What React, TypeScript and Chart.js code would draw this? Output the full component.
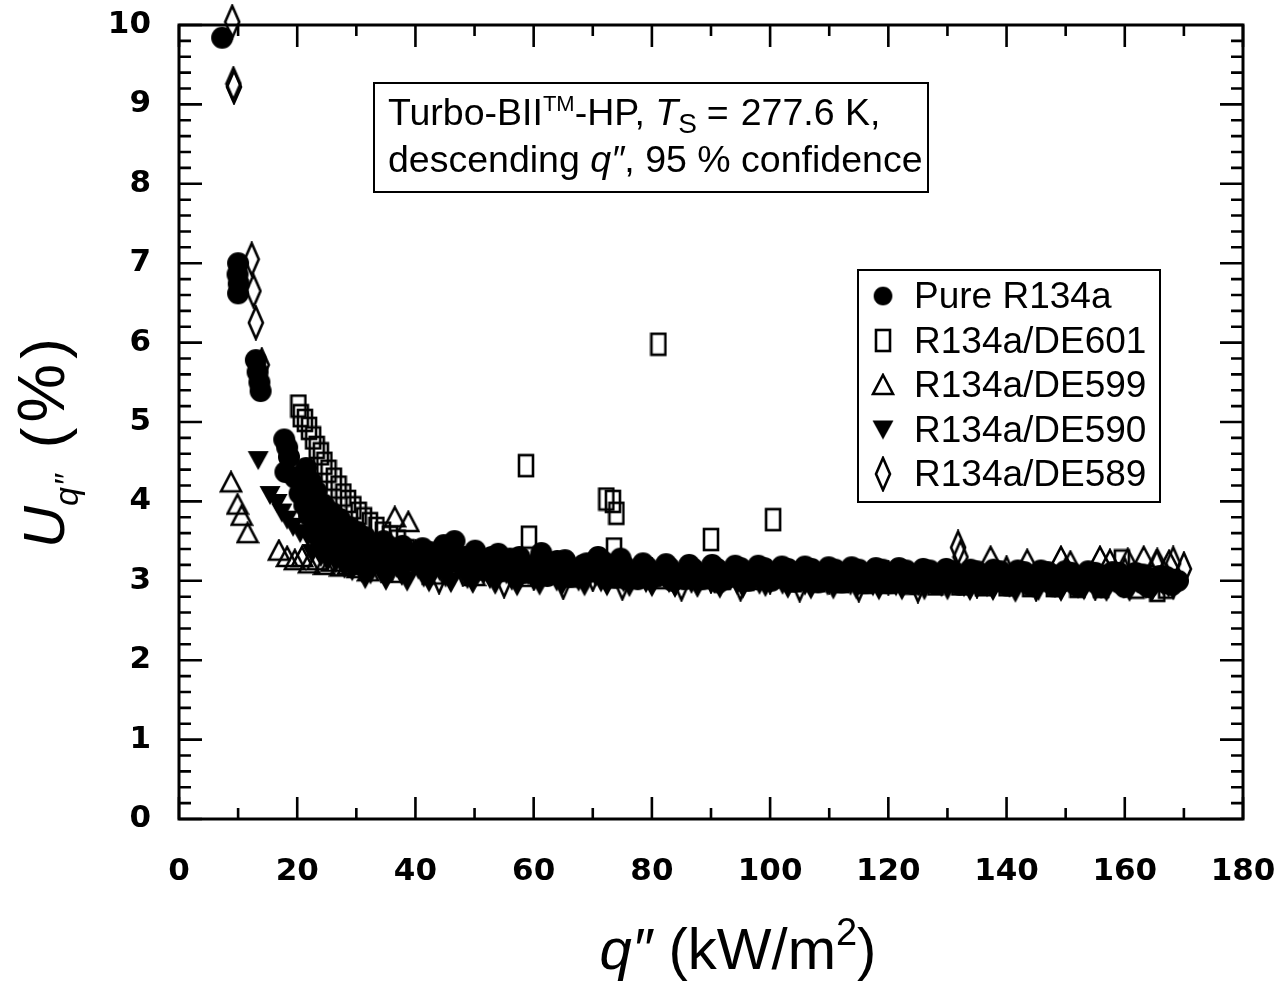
import { useEffect, useRef } from "react";
import { Chart, registerables } from "chart.js";

Chart.register(...registerables);

// ---------- data (q'' in kW/m², U in %) ----------
const SERIES_LABELS = ["Pure R134a", "R134a/DE601", "R134a/DE599", "R134a/DE590", "R134a/DE589"];

const PURE_R134A: [number, number][] = [
  [7.3, 9.84], [10.0, 7.0], [9.9, 6.86], [10.1, 6.74], [10.0, 6.62], [13.0, 5.78], [13.3, 5.63], [13.6, 5.5],
  [13.8, 5.39], [17.8, 4.78], [18.3, 4.68], [18.6, 4.56], [18.0, 4.37], [21.5, 4.42], [22.4, 4.25], [23.3, 4.12],
  [24.5, 3.96], [25.8, 3.86], [27.2, 3.78], [28.6, 3.68], [30.1, 3.62], [31.5, 3.55], [33.1, 3.42], [34.6, 3.5],
  [36.3, 3.38], [37.8, 3.44], [39.6, 3.3], [41.2, 3.41], [43.1, 3.28], [44.8, 3.45], [46.6, 3.5], [48.3, 3.3],
  [50.1, 3.38], [52.0, 3.22], [54.0, 3.34], [55.7, 3.18], [57.6, 3.3], [59.6, 3.15], [61.3, 3.35], [63.2, 3.12],
  [65.3, 3.26], [67.1, 3.1], [69.0, 3.22], [70.9, 3.3], [73.0, 3.1], [74.7, 3.28], [76.8, 3.08], [78.5, 3.22],
  [80.7, 3.05], [82.4, 3.21], [84.6, 3.04], [86.3, 3.2], [88.5, 3.02], [90.2, 3.2], [92.4, 3.02], [94.1, 3.19],
  [96.3, 3.0], [98.0, 3.19], [100.2, 3.0], [102.0, 3.18], [104.1, 2.99], [105.9, 3.18], [108.1, 2.98], [109.9, 3.17],
  [112.1, 2.98], [113.8, 3.17], [116.1, 2.97], [117.9, 3.16], [120.1, 2.97], [121.8, 3.16], [124.1, 2.96], [125.9, 3.15],
  [128.0, 2.96], [129.8, 3.15], [132.1, 2.95], [133.9, 3.14], [136.0, 2.95], [137.8, 3.14], [140.1, 2.94], [141.9, 3.13],
  [144.0, 2.94], [145.8, 3.13], [148.1, 2.93], [149.9, 3.12], [152.0, 2.93], [153.8, 3.12], [156.1, 2.92], [157.9, 3.11],
  [160.0, 2.92], [161.8, 3.1], [164.0, 2.92], [165.9, 3.06], [168.0, 2.95],
  [24.0, 3.7], [26.3, 3.55], [28.0, 3.45], [29.4, 3.4], [31.0, 3.35], [32.2, 3.3], [35.5, 3.22], [38.7, 3.25],
  [42.1, 3.18], [45.7, 3.3], [49.2, 3.2], [53.0, 3.14], [56.6, 3.22], [60.4, 3.08], [64.2, 3.18], [68.0, 3.06],
  [72.0, 3.2], [75.8, 3.02], [79.6, 3.1], [83.5, 3.0], [87.4, 3.08], [91.3, 2.98], [95.2, 3.07], [99.1, 3.05],
  [103.0, 3.06], [107.0, 3.04], [111.0, 3.05], [115.0, 3.03], [119.0, 3.03], [123.0, 3.02], [127.0, 3.02], [131.0, 3.01],
  [135.0, 3.01], [139.0, 3.0], [143.0, 3.0], [147.0, 2.99], [151.0, 2.99], [155.0, 2.98], [159.0, 2.98], [163.0, 2.97],
  [167.0, 2.97],
  [30.8, 3.5], [32.8, 3.45], [34.0, 3.3], [35.9, 3.42], [37.2, 3.28], [38.2, 3.38], [40.4, 3.22], [42.6, 3.36],
  [44.0, 3.2], [46.0, 3.36], [47.4, 3.22], [49.6, 3.3], [51.0, 3.14], [52.9, 3.3], [54.7, 3.12], [56.0, 3.28],
  [58.5, 3.1], [60.8, 3.24], [62.3, 3.06], [64.0, 3.25], [66.2, 3.05], [68.4, 3.2], [70.0, 3.12], [71.8, 3.24],
  [73.8, 3.04], [75.4, 3.18], [77.6, 3.02], [79.2, 3.17], [81.5, 3.1], [83.0, 3.16], [85.4, 3.02], [87.0, 3.15],
  [89.2, 3.08], [91.0, 3.15], [93.2, 3.05], [95.0, 3.16], [97.2, 3.06], [99.0, 3.16], [101.2, 3.04], [103.0, 3.15],
  [105.0, 3.06], [107.0, 3.15], [109.0, 3.04], [111.0, 3.14], [113.0, 3.05], [115.0, 3.14], [117.0, 3.03], [119.0, 3.14],
  [121.0, 3.04], [123.0, 3.13], [125.0, 3.03], [127.0, 3.13], [129.0, 3.02], [131.0, 3.12], [133.0, 3.03], [135.0, 3.12],
  [137.0, 3.02], [139.0, 3.12], [141.0, 3.01], [143.0, 3.11], [145.0, 3.02], [147.0, 3.11], [149.0, 3.0], [151.0, 3.1],
  [153.0, 3.01], [155.0, 3.1], [157.0, 3.0], [159.0, 3.1], [161.0, 3.0], [163.0, 3.08], [165.0, 2.99], [167.0, 3.05],
  [169.0, 3.0],
  [19.6, 4.3], [20.4, 4.1], [21.2, 3.95], [22.0, 3.82], [23.0, 3.72], [24.8, 3.6], [26.0, 3.48], [27.6, 3.38],
];

const R134A_DE601: [number, number][] = [
  [20.2, 5.2], [20.6, 5.08], [21.3, 5.02], [22.0, 4.92], [22.7, 4.8], [23.3, 4.68], [24.0, 4.6], [24.6, 4.48],
  [25.3, 4.38], [26.2, 4.28], [27.0, 4.18], [27.8, 4.08], [28.6, 4.0], [29.5, 3.92], [30.4, 3.85], [31.3, 3.78],
  [32.3, 3.72], [33.4, 3.66], [34.5, 3.6], [35.7, 3.55], [37.0, 3.5], [38.5, 3.38], [40.3, 3.32], [42.5, 3.28],
  [44.6, 3.25], [47.0, 3.22], [49.5, 3.2], [52.0, 3.18], [54.5, 3.16], [57.0, 3.14], [58.7, 4.45], [59.2, 3.55],
  [62.0, 3.12], [65.0, 3.1], [68.0, 3.1], [72.3, 4.03], [73.4, 4.0], [74.0, 3.85], [73.6, 3.4], [76.0, 3.08],
  [79.0, 3.06], [81.1, 5.98], [84.0, 3.05], [87.0, 3.04], [90.0, 3.52], [92.0, 3.03], [96.0, 3.02], [100.5, 3.77],
  [104.0, 3.0], [108.0, 3.0], [112.0, 2.99], [116.0, 2.98], [120.0, 2.98], [124.0, 2.97], [128.0, 2.96], [132.0, 2.96],
  [136.0, 2.95], [140.0, 2.95], [144.0, 2.94], [148.0, 2.94], [152.0, 2.93], [156.0, 2.93], [159.5, 3.25], [162.0, 2.92],
  [165.5, 2.88], [167.0, 2.92],
];

const R134A_DE599: [number, number][] = [
  [8.8, 4.24], [9.9, 3.96], [10.6, 3.82], [11.6, 3.6], [16.9, 3.38], [18.3, 3.3], [19.6, 3.26], [20.8, 3.3],
  [22.0, 3.22], [22.7, 3.9], [23.4, 3.26], [24.6, 3.2], [25.9, 3.68], [25.8, 3.24], [27.3, 3.18], [28.4, 3.55],
  [28.6, 3.2], [30.2, 3.16], [32.0, 3.12], [34.0, 3.25], [36.0, 3.1], [36.5, 3.8], [38.8, 3.74], [40.0, 3.22],
  [43.0, 3.08], [46.0, 3.2], [50.0, 3.06], [54.0, 3.18], [58.0, 3.05], [62.0, 3.15], [66.0, 3.04], [70.0, 3.14],
  [74.0, 3.03], [78.0, 3.13], [82.0, 3.02], [86.0, 3.12], [90.0, 3.02], [94.0, 3.12], [98.0, 3.01], [102.0, 3.11],
  [106.0, 3.0], [110.0, 3.1], [114.0, 3.0], [118.0, 3.1], [122.0, 2.99], [126.0, 3.1], [130.0, 2.99], [137.3, 3.3],
  [140.0, 3.0], [143.5, 3.26], [146.0, 3.05], [149.2, 3.3], [150.8, 3.24], [153.0, 3.05], [155.8, 3.3], [157.5, 3.26],
  [160.5, 3.27], [163.2, 3.3], [165.5, 3.27], [167.5, 3.25],
];

const R134A_DE590: [number, number][] = [
  [13.4, 4.52], [15.4, 4.08], [16.6, 3.98], [17.4, 3.86], [18.3, 3.77], [19.3, 3.68], [20.5, 3.6], [21.8, 3.55],
  [23.0, 3.48], [24.4, 3.42], [25.8, 3.38], [27.0, 3.3], [28.5, 3.26], [30.0, 3.22], [31.5, 3.02], [33.2, 3.2],
  [35.0, 3.0], [36.8, 3.16], [38.6, 2.99], [40.5, 3.14], [42.3, 2.98], [44.1, 3.12], [46.0, 2.97], [47.9, 3.1],
  [49.7, 2.96], [51.6, 3.09], [53.5, 2.95], [55.4, 3.08], [57.2, 2.93], [59.1, 3.07], [61.0, 2.94], [62.9, 3.06],
  [64.8, 2.94], [66.7, 3.05], [68.6, 2.93], [70.5, 3.05], [72.4, 2.93], [74.3, 3.06], [76.2, 2.92], [78.1, 3.04],
  [80.0, 2.92], [82.0, 3.03], [83.9, 2.91], [85.8, 3.03], [87.7, 2.91], [89.6, 3.02], [91.5, 2.9], [93.4, 3.02],
  [95.4, 2.9], [97.3, 3.01], [99.2, 2.92], [101.1, 3.01], [103.0, 2.9], [105.0, 3.0], [106.9, 2.89], [108.8, 3.0],
  [110.7, 2.89], [112.6, 3.0], [114.6, 2.89], [116.5, 2.99], [118.4, 2.88], [120.3, 3.01], [122.3, 2.88], [124.2, 2.99],
  [126.1, 2.88], [128.0, 2.98], [130.0, 2.88], [131.9, 2.98], [133.8, 2.87], [135.7, 2.98], [137.7, 2.87], [139.6, 2.97],
  [141.5, 2.85], [143.4, 2.97], [145.4, 2.87], [147.3, 2.97], [149.2, 2.86], [151.1, 2.96], [153.1, 2.88], [155.0, 2.96],
  [156.9, 2.86], [158.8, 2.96], [160.8, 2.86], [162.7, 2.95], [164.6, 2.86], [166.5, 2.94], [168.2, 2.88],
  [22.5, 3.35], [24.0, 3.3], [25.2, 3.25], [26.5, 3.22], [28.0, 3.15], [29.3, 3.12], [31.0, 3.1], [32.4, 3.08],
  [34.1, 3.1], [37.7, 3.06], [41.4, 3.04], [45.1, 3.04], [48.8, 3.02], [52.6, 3.02], [56.3, 3.0], [60.1, 3.0],
  [63.9, 2.99], [67.6, 2.99], [71.4, 2.98], [75.2, 2.98], [79.0, 2.97], [82.9, 2.97], [86.7, 2.96], [90.6, 2.96],
  [94.4, 2.95], [98.2, 2.95], [102.1, 2.95], [105.9, 2.94], [109.7, 2.94], [113.6, 2.94], [117.4, 2.93], [121.3, 2.93],
  [125.1, 2.93], [129.0, 2.92], [132.8, 2.92], [136.7, 2.92], [140.5, 2.91], [144.4, 2.91], [148.2, 2.91], [152.1, 2.9],
  [156.0, 2.9], [159.8, 2.9], [163.6, 2.9], [167.4, 2.91],
];

const R134A_DE589: [number, number][] = [
  [9.0, 10.04], [9.2, 9.26], [9.3, 9.22], [12.3, 7.05], [12.6, 6.65], [13.0, 6.25], [14.0, 5.72], [32.0, 3.35],
  [36.0, 3.2], [40.0, 3.3], [44.0, 3.05], [48.0, 3.15], [55.0, 3.0], [60.0, 3.1], [65.0, 2.98], [70.0, 3.08],
  [75.0, 2.97], [80.0, 3.07], [85.0, 2.96], [90.0, 3.06], [95.0, 2.96], [100.0, 3.05], [105.0, 2.95], [110.0, 3.05],
  [115.0, 2.95], [120.0, 3.04], [125.0, 2.94], [131.8, 3.42], [132.2, 3.3], [135.0, 3.0], [140.0, 3.1], [145.0, 2.96],
  [150.0, 3.08], [155.0, 2.97], [160.0, 3.08], [165.4, 3.18], [168.2, 3.22], [170.0, 3.15],
];

const SERIES_DATA = [PURE_R134A, R134A_DE601, R134A_DE599, R134A_DE590, R134A_DE589];

const X_MIN = 0;
const X_MAX = 180;
const X_STEP = 20;
const Y_MIN = 0;
const Y_MAX = 10;
const Y_STEP = 1;

// ---------- marker images ----------
function mk(w: number, h: number, draw: (c: CanvasRenderingContext2D) => void) {
  const cv = document.createElement("canvas");
  cv.width = w;
  cv.height = h;
  const c = cv.getContext("2d")!;
  c.strokeStyle = "#000";
  c.fillStyle = "#000";
  c.lineWidth = 2.6;
  c.lineJoin = "miter";
  draw(c);
  return cv;
}

function makeMarkers() {
  const circle = mk(24, 24, (c) => {
    c.beginPath();
    c.arc(12, 12, 11, 0, Math.PI * 2);
    c.fill();
  });
  const square = mk(18, 25, (c) => {
    c.strokeRect(2, 2, 14, 21);
  });
  const triUp = mk(24, 24, (c) => {
    c.beginPath();
    c.moveTo(12, 2);
    c.lineTo(22, 21);
    c.lineTo(2, 21);
    c.closePath();
    c.stroke();
  });
  const triDown = mk(24, 24, (c) => {
    c.beginPath();
    c.moveTo(1.5, 3);
    c.lineTo(22.5, 3);
    c.lineTo(12, 22);
    c.closePath();
    c.fill();
  });
  const diamond = mk(18, 36, (c) => {
    c.beginPath();
    c.moveTo(9, 2);
    c.lineTo(16, 18);
    c.lineTo(9, 34);
    c.lineTo(2, 18);
    c.closePath();
    c.stroke();
  });
  return [circle, square, triUp, triDown, diamond];
}

const SANS = "'Liberation Sans', Arial, Helvetica, sans-serif";

type Run = { t: string; font: string; dy?: number; gap?: number };

function drawRuns(ctx: CanvasRenderingContext2D, runs: Run[], x: number, y: number, measureOnly = false) {
  let cx = x;
  for (const r of runs) {
    ctx.font = r.font;
    if (!measureOnly) ctx.fillText(r.t, cx, y + (r.dy || 0));
    cx += ctx.measureText(r.t).width + (r.gap || 0);
  }
  return cx - x;
}

const decorPlugin = {
  id: "decor",
  afterDraw(chart: any) {
    const { ctx, chartArea: a, scales } = chart;
    const xs = scales.x;
    const ys = scales.y;
    ctx.save();
    ctx.strokeStyle = "#000";
    ctx.fillStyle = "#000";

    // frame
    ctx.lineWidth = 3;
    ctx.strokeRect(a.left, a.top, a.right - a.left, a.bottom - a.top);

    // inward ticks
    ctx.lineWidth = 2.6;
    ctx.beginPath();
    for (let v = X_MIN; v <= X_MAX + 1e-9; v += X_STEP / 2) {
      const px = xs.getPixelForValue(v);
      const major = Math.abs(v / X_STEP - Math.round(v / X_STEP)) < 1e-6;
      const len = major ? 22 : 11;
      ctx.moveTo(px, a.bottom);
      ctx.lineTo(px, a.bottom - len);
      ctx.moveTo(px, a.top);
      ctx.lineTo(px, a.top + len);
    }
    for (let i = 0; i <= (Y_MAX - Y_MIN) * 5; i++) {
      const v = Y_MIN + i / 5;
      const py = ys.getPixelForValue(v);
      const len = i % 5 === 0 ? 23 : 12;
      ctx.moveTo(a.left, py);
      ctx.lineTo(a.left + len, py);
      ctx.moveTo(a.right, py);
      ctx.lineTo(a.right - len, py);
    }
    ctx.stroke();

    // annotation box
    ctx.lineWidth = 2;
    ctx.fillStyle = "#fff";
    ctx.fillRect(374, 83, 554, 109);
    ctx.strokeRect(374, 83, 554, 109);
    ctx.fillStyle = "#000";
    ctx.textAlign = "left";
    ctx.textBaseline = "alphabetic";
    const F = 37.5;
    drawRuns(
      ctx,
      [
        { t: "Turbo-BII", font: `${F}px ${SANS}` },
        { t: "TM", font: `${Math.round(F * 0.58)}px ${SANS}`, dy: -14 },
        { t: "-HP, ", font: `${F}px ${SANS}` },
        { t: "T", font: `italic ${F}px ${SANS}` },
        { t: "S", font: `${Math.round(F * 0.75)}px ${SANS}`, dy: 8, gap: 10 },
        { t: "=", font: `${F}px ${SANS}`, gap: 12 },
        { t: "277.6 K,", font: `${F}px ${SANS}` },
      ],
      388,
      125
    );
    drawRuns(
      ctx,
      [
        { t: "descending ", font: `${F}px ${SANS}` },
        { t: "q\u2033", font: `italic ${F}px ${SANS}` },
        { t: ", 95 % confidence", font: `${F}px ${SANS}` },
      ],
      388,
      172
    );

    // legend box
    const markers = chart.$markers as HTMLCanvasElement[];
    ctx.fillStyle = "#fff";
    ctx.fillRect(858, 270, 302, 232);
    ctx.strokeRect(858, 270, 302, 232);
    ctx.fillStyle = "#000";
    ctx.font = `37px ${SANS}`;
    ctx.textBaseline = "middle";
    chart.data.datasets.forEach((ds: any, i: number) => {
      const y = 296 + i * 44.5;
      const m = markers[i];
      const sc = i === 0 ? 0.85 : 1;
      ctx.drawImage(m, 883 - (m.width * sc) / 2, y - (m.height * sc) / 2, m.width * sc, m.height * sc);
      ctx.fillText(ds.label, 914, y + 2);
    });

    // x axis title
    ctx.textBaseline = "alphabetic";
    const XF = 58;
    const xRuns: Run[] = [
      { t: "q\u2033", font: `italic ${XF}px ${SANS}` },
      { t: " (kW/m", font: `${XF}px ${SANS}` },
      { t: "2", font: `${Math.round(XF * 0.65)}px ${SANS}`, dy: -24 },
      { t: ")", font: `${XF}px ${SANS}` },
    ];
    const xw = drawRuns(ctx, xRuns, 0, 0, true);
    drawRuns(ctx, xRuns, 738 - xw / 2, 969);

    // y axis title (rotated)
    const YF = 58;
    const yRuns: Run[] = [
      { t: "U", font: `italic ${YF}px ${SANS}`, gap: 0 },
      { t: "q", font: `italic ${Math.round(YF * 0.58)}px ${SANS}`, dy: 14, gap: 1 },
      { t: "\u2033", font: `italic ${Math.round(YF * 0.58)}px ${SANS}`, dy: 14, gap: 26 },
      { t: "(", font: `${YF + 4}px ${SANS}`, gap: 5 },
      { t: "%", font: `${YF + 8}px ${SANS}`, gap: 5 },
      { t: ")", font: `${YF + 4}px ${SANS}` },
    ];
    ctx.translate(64, 548);
    ctx.rotate(-Math.PI / 2);
    drawRuns(ctx, yRuns, 0, 0);

    ctx.restore();
  },
};

export default function App() {
  const ref = useRef<HTMLCanvasElement | null>(null);

  useEffect(() => {
    if (!ref.current) return;
    const markers = makeMarkers();
    const tickFont = { family: "'DejaVu Sans', sans-serif", size: 31, weight: "bold" as const };
    const zeroPad = (s: any) => {
      s.paddingLeft = 0;
      s.paddingRight = 0;
      s.paddingTop = 0;
      s.paddingBottom = 0;
    };
    const chart = new Chart(ref.current, {
      type: "scatter",
      data: {
        datasets: SERIES_DATA.map((pts, i) => ({
          label: SERIES_LABELS[i],
          data: pts.map(([x, y]) => ({ x, y })),
          pointStyle: markers[i] as any,
          pointRadius: 12,
          showLine: false,
          clip: false as any,
        })),
      },
      options: {
        responsive: false,
        animation: false,
        events: [],
        layout: { padding: { left: 0, top: 25, right: 44, bottom: 0 } },
        plugins: { legend: { display: false }, tooltip: { enabled: false }, title: { display: false } },
        scales: {
          x: {
            type: "linear",
            min: X_MIN,
            max: X_MAX,
            grid: { display: false, drawTicks: false },
            border: { display: false },
            ticks: { stepSize: X_STEP, color: "#000", font: tickFont, padding: 34, maxRotation: 0 },
            afterFit: (s: any) => {
              s.height = 166;
              zeroPad(s);
            },
          },
          y: {
            type: "linear",
            min: Y_MIN,
            max: Y_MAX,
            grid: { display: false, drawTicks: false },
            border: { display: false },
            ticks: { stepSize: Y_STEP, color: "#000", font: tickFont, padding: 28 },
            afterFit: (s: any) => {
              s.width = 179;
              zeroPad(s);
            },
          },
        },
      },
      plugins: [
        {
          id: "markersRef",
          beforeInit(c: any) {
            c.$markers = markers;
          },
        },
        decorPlugin,
      ],
    });
    return () => chart.destroy();
  }, []);

  return (
    <div style={{ position: "fixed", left: 0, top: 0, width: 1287, height: 985, background: "#fff" }}>
      <canvas ref={ref} width={1287} height={985} style={{ display: "block" }} />
    </div>
  );
}
